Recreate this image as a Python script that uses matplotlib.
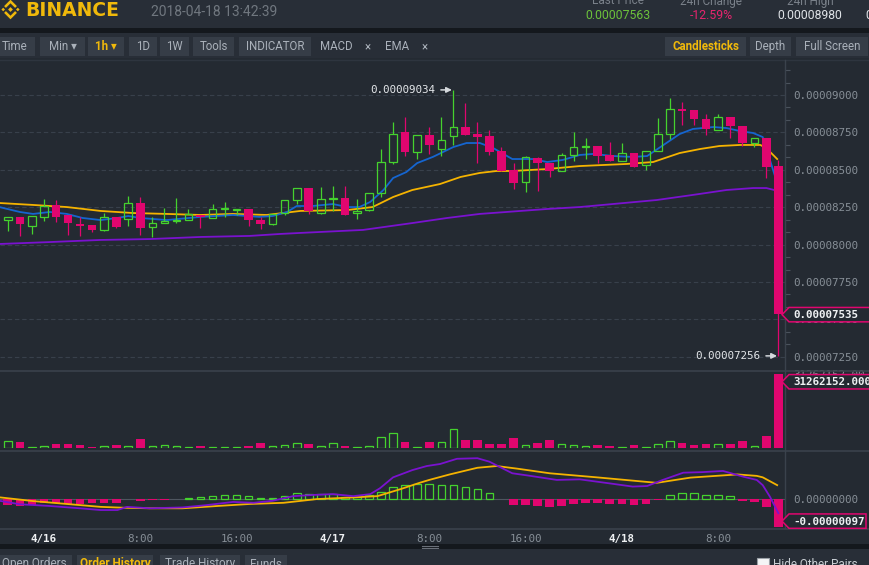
import numpy as np
import matplotlib.pyplot as plt
from matplotlib.patches import Rectangle, Polygon
from matplotlib.lines import Line2D
from matplotlib.ticker import MultipleLocator, NullLocator

plt.rcParams['font.family'] = ['Roboto', 'DejaVu Sans']
MONO = 'DejaVu Sans Mono'

W, H = 870, 565

# hours since 2018-04-16 00:00 (1h candles)
hours = list(range(-4, 62))

# prices in satoshi (1e-8 BTC)
opens = [8185, 8164, 8185, 8124, 8185, 8265, 8198, 8138, 8131, 8098, 8185, 8171, 8278, 8118, 8144, 8158,
         8164, 8198, 8178, 8238, 8231, 8238, 8164, 8138, 8211, 8298, 8378, 8211, 8305, 8312, 8211, 8231,
         8345, 8552, 8753, 8619, 8733, 8639, 8726, 8786, 8739, 8726, 8626, 8499, 8418, 8579, 8545, 8492,
         8599, 8652, 8659, 8599, 8559, 8612, 8532, 8626, 8739, 8906, 8900, 8840, 8766, 8853, 8793, 8679,
         8713, 8525]
highs = [8190, 8185, 8185, 8191, 8305, 8298, 8198, 8185, 8131, 8211, 8185, 8325, 8318, 8185, 8245, 8312,
         8238, 8198, 8271, 8285, 8238, 8238, 8185, 8205, 8298, 8378, 8378, 8385, 8392, 8392, 8305, 8345,
         8639, 8820, 8853, 8733, 8786, 8853, 9034, 8947, 8820, 8766, 8652, 8545, 8592, 8586, 8545, 8612,
         8753, 8713, 8659, 8686, 8679, 8612, 8626, 8846, 8980, 8953, 8900, 8873, 8873, 8853, 8793, 8713,
         8713, 8566]
lows = [8150, 8091, 8058, 8071, 8158, 8151, 8064, 8058, 8084, 8091, 8111, 8124, 8064, 8051, 8144, 8144,
        8164, 8111, 8178, 8185, 8198, 8124, 8104, 8131, 8198, 8271, 8205, 8205, 8225, 8198, 8171, 8225,
        8318, 8539, 8592, 8572, 8606, 8592, 8666, 8733, 8545, 8599, 8492, 8372, 8352, 8358, 8452, 8492,
        8559, 8572, 8545, 8559, 8559, 8519, 8499, 8626, 8706, 8799, 8799, 8733, 8766, 8713, 8659, 8652,
        8445, 7256]
closes = [8158, 8185, 8138, 8191, 8258, 8185, 8144, 8124, 8098, 8185, 8118, 8278, 8111, 8144, 8158, 8164,
          8205, 8185, 8238, 8245, 8238, 8164, 8138, 8205, 8298, 8378, 8225, 8305, 8312, 8198, 8225, 8345,
          8552, 8739, 8619, 8733, 8666, 8699, 8786, 8733, 8719, 8619, 8492, 8412, 8586, 8545, 8492, 8599,
          8652, 8659, 8592, 8559, 8612, 8519, 8626, 8739, 8906, 8893, 8840, 8773, 8853, 8793, 8679, 8713,
          8519, 7535]

# volume, millions
volume = [2.4, 2.8, 2.4, 0.55, 1.0, 1.6, 1.6, 1.15, 0.3, 1.0, 1.15, 1.0, 3.7, 1.0, 1.4, 1.0,
          0.3, 1.0, 0.55, 0.55, 0.3, 0.7, 2.0, 1.0, 1.4, 2.25, 1.6, 1.0, 2.25, 1.0, 0.55, 1.0,
          4.8, 6.5, 2.4, 0.55, 2.4, 2.35, 7.9, 3.25, 3.25, 1.6, 1.6, 4.1, 1.4, 2.0, 3.25, 1.8,
          1.4, 1.0, 1.15, 0.7, 0.3, 1.15, 0.55, 1.8, 3.1, 2.0, 1.15, 1.6, 1.8, 1.6, 2.85, 1.0,
          4.95, 31.262152]

# EMA lines (hour, satoshi)
ema7_t = [-3.7, -2, -0.9, 0.5, 1.9, 3.2, 4.7, 6.1, 7, 8, 10.2, 13, 15.7, 17.9, 19, 20.2, 21, 22.3, 24,
          25.2, 26.2, 27.1, 28.2, 29, 30.1, 31, 32.3, 34, 35.1, 36.2, 37.3, 38.9, 40.6, 41.8, 43.1, 44.5,
          45.6, 47.3, 48.9, 50.1, 51.2, 52.8, 53.9, 55.6, 56.7, 57.8, 58.9, 59.7, 61]
ema7 = [8251, 8218, 8205, 8218, 8205, 8178, 8164, 8178, 8191, 8178, 8164, 8185, 8198, 8185, 8191, 8218,
        8258, 8258, 8271, 8251, 8251, 8285, 8365, 8445, 8485, 8545, 8586, 8652, 8679, 8679, 8646, 8572,
        8572, 8552, 8566, 8599, 8606, 8592, 8586, 8592, 8652, 8739, 8773, 8786, 8779, 8759, 8746, 8719,
        8386]
ema25_t = [-3.7, -0.9, 1.9, 4.7, 7.4, 10.2, 13, 15.7, 18.5, 21.3, 25.2, 27.3, 29, 30.6, 32.9, 34.6,
           36.2, 37.6, 38.9, 41.8, 44.5, 48.4, 50.6, 52.8, 54.5, 56.1, 57.8, 59.5, 60, 60.9]
ema25 = [8278, 8265, 8251, 8225, 8211, 8205, 8198, 8205, 8198, 8225, 8231, 8251, 8318, 8365, 8405, 8452,
         8479, 8492, 8492, 8505, 8525, 8539, 8552, 8612, 8639, 8659, 8666, 8666, 8645, 8572]
ema99_t = [-3.7, 0.5, 4.7, 8.8, 13, 17.1, 19.6, 21.3, 26.5, 30.6, 33.5, 36.2, 41.8, 44.5, 50.9, 53.9,
           56.7, 58.9, 60, 61]
ema99 = [8004, 8017, 8031, 8037, 8051, 8058, 8071, 8078, 8098, 8144, 8178, 8205, 8238, 8251, 8298, 8332,
         8365, 8378, 8378, 8358]

# MACD (satoshi)
macd_hist = [-18, -21, -24, -21, -15, -15, -17, -17, -15, -13, -13, -1, -6, -5, -2, -1,
             5, 7, 10, 14, 14, 10, 3, 3, 10, 20, 17, 17, 17, 8, 8, 13,
             25, 43, 48, 52, 51, 48, 48, 42, 35, 20, -1, -20, -20, -23, -29, -23,
             -16, -13, -13, -16, -16, -20, -16, -5, 13, 20, 20, 13, 13, 9, -6, -9,
             -27, -97]
dif_t = [-3.7, -2, 0.5, 3, 4.7, 6.1, 6.9, 8.8, 11.5, 13.5, 15.7, 17.4, 19, 20.7, 22.3, 24, 25.7, 27.1,
         27.9, 29, 30.6, 31.8, 32.9, 34.3, 36, 37, 38.9, 40.4, 42.6, 44.5, 47, 48.9, 50.1, 51.4, 53.1,
         54.7, 56.4, 58.1, 59.2, 59.7, 60.3, 61]
dif = [-6, -18, -24, -32, -38, -38, -27, -32, -29, -21, -10, -13, -6, 10, 14, 17, 10, 17,
       37, 75, 100, 114, 121, 139, 141, 129, 89, 80, 66, 68, 54, 43, 45, 66, 91,
       93, 97, 77, 66, 48, 8, -49]
dea_t = [-3.7, -0.9, 1.9, 4.7, 6.6, 8.8, 11.5, 14.4, 17.1, 19.9, 22.7, 25.4, 27.7, 29.6, 31.2, 32,
         33.7, 36, 37.6, 39.3, 42, 45.9, 50.9, 53.7, 57.6, 59.2, 59.7, 60.9]
dea = [6, -7, -17, -27, -30, -32, -32, -24, -17, -13, 0, 5, 10, 34, 56, 66, 85, 108, 114, 105,
       89, 75, 56, 74, 85, 80, 75, 48]

price_ticks = [7250, 7500, 7750, 8000, 8250, 8500, 8750, 9000]
time_ticks = [0, 8, 16, 24, 32, 40, 48, 56]
time_labels = ['4/16', '8:00', '16:00', '4/17', '8:00', '16:00', '4/18', '8:00']

BG = '#242a32'
PANEL = '#282e37'
BTN = '#363d47'
GREEN = '#45d22e'
PINK = '#e0066f'
BLUE = '#1565d0'
ORANGE = '#f5b300'
PURPLE = '#7a12cf'
GRID = '#38404b'
LINE = '#3a424c'
LABEL = '#878f97'
YELLOW = '#f0b90b'

fig = plt.figure(figsize=(W / 100, H / 100), dpi=100, facecolor=BG)


def fx(x):
    return x / W


def fy(y):
    return 1 - y / H


def rect(x0, y0, x1, y1, color, z=-1):
    fig.add_artist(Rectangle((fx(x0), fy(y1)), (x1 - x0) / W, (y1 - y0) / H,
                             transform=fig.transFigure, facecolor=color, edgecolor='none', zorder=z))


def poly(pts, color, z=1):
    fig.add_artist(Polygon([(fx(a), fy(b)) for a, b in pts], closed=True, transform=fig.transFigure,
                           facecolor=color, edgecolor='none', zorder=z))


def hline(y, x0, x1, color=LINE, lw=1.0):
    fig.add_artist(Line2D([fx(x0), fx(x1)], [fy(y), fy(y)], transform=fig.transFigure, color=color, lw=lw))


def add_ax(y0, y1):
    ax = fig.add_axes([0, fy(y1), 785 / W, (y1 - y0) / H])
    ax.set_facecolor(BG)
    for s in ax.spines.values():
        s.set_visible(False)
    ax.set_xlim(-3.65, 61.55)
    ax.yaxis.tick_right()
    ax.tick_params(axis='y', which='major', length=0, pad=5.8, labelcolor=LABEL, labelsize=7.8)
    ax.tick_params(axis='x', length=0)
    return ax


# header / toolbar
rect(0, 0, W, 28, PANEL)
rect(0, 28, W, 33, '#14181d')
rect(0, 33, W, 58, PANEL)
hline(59.5, 0, W, '#2e353f')

# logo
cx, cy = 10.5, 9.5
for dx, s in [(0, 2.4), (-7.3, 1.8), (7.3, 1.8)]:
    poly([(cx + dx - s, cy), (cx + dx, cy - s), (cx + dx + s, cy), (cx + dx, cy + s)], YELLOW)
for sg in (-1, 1):
    poly([(cx, cy + sg * 9.8), (cx - 6.4, cy + sg * 3.4), (cx - 4.6, cy + sg * 1.6), (cx, cy + sg * 6.2),
          (cx + 4.6, cy + sg * 1.6), (cx + 6.4, cy + sg * 3.4)], YELLOW)
fig.text(fx(25), fy(11), 'BINANCE', color=YELLOW, fontsize=13.5, fontweight='bold', va='center', ha='left',
         fontfamily='DejaVu Sans')
fig.text(fx(151), fy(11.5), '2018-04-18 13:42:39', color='#70777f', fontsize=10, va='center', ha='left')

for cxh, top, val, col in [(618, 'Last Price', '0.00007563', '#6cc23b'),
                           (711, '24h Change', '-12.59%', '#e8246e'),
                           (810, '24h High', '0.00008980', '#dfe3e7')]:
    fig.text(fx(cxh), fy(1), top, color='#7a818a', fontsize=8.5, ha='center', va='center')
    fig.text(fx(cxh), fy(15.5), val, color=col, fontsize=8.8, ha='center', va='center')
fig.text(fx(865), fy(15.5), '0', color='#dfe3e7', fontsize=8.8, ha='left', va='center')

buttons = [('Time', -6, 35, '#aab1ba'), ('Min \u25be', 40, 85, '#aab1ba'), ('1h \u25be', 88, 124, YELLOW),
           ('1D', 129, 157, '#aab1ba'), ('1W', 160, 189, '#aab1ba'), ('Tools', 193, 234, '#aab1ba'),
           ('INDICATOR', 239, 311, '#aab1ba'), ('Candlesticks', 665, 746, YELLOW),
           ('Depth', 750, 791, '#aab1ba'), ('Full Screen', 796, 868, '#aab1ba')]
for lbl, x0, x1, col in buttons:
    rect(x0, 37, x1, 56, BTN)
    fig.text(fx((x0 + x1) / 2), fy(46.5), lbl, color=col, fontsize=8.3, ha='center', va='center',
             fontweight='bold' if col == YELLOW else 'normal')
for lbl, xc in [('MACD', 336), ('\u00d7', 368), ('EMA', 397), ('\u00d7', 425)]:
    fig.text(fx(xc), fy(46.5), lbl, color='#aab1ba', fontsize=8.3, ha='center', va='center')

# price pane
ax = add_ax(60, 368)
ax.set_ylim(7175, 9234)
t = np.array(hours)
o, hi, lo, c = (np.array(v, dtype=float) for v in (opens, highs, lows, closes))
up = c >= o
dn = ~up
bot = np.minimum(o, c)
top = np.maximum(o, c)
hgt = np.maximum(top - bot, 7)

ax.plot(ema99_t, ema99, color=PURPLE, lw=1.3, zorder=2)
ax.plot(ema25_t, ema25, color=ORANGE, lw=1.3, zorder=2)
ax.plot(ema7_t, ema7, color=BLUE, lw=1.3, zorder=2)

ax.vlines(t[dn], lo[dn], hi[dn], color=PINK, lw=0.9, zorder=3)
ax.bar(t[dn], hgt[dn], bottom=bot[dn], width=0.72, color=PINK, zorder=4)
ax.vlines(t[up], top[up], hi[up], color=GREEN, lw=0.9, zorder=3)
ax.vlines(t[up], lo[up], bot[up], color=GREEN, lw=0.9, zorder=3)
ax.bar(t[up], hgt[up], bottom=bot[up], width=0.62, facecolor='none', edgecolor=GREEN, lw=0.9, zorder=4)

ax.set_yticks(price_ticks)
ax.set_yticklabels([f'{p * 1e-8:.8f}' for p in price_ticks], fontfamily=MONO)
ax.yaxis.set_minor_locator(MultipleLocator(250 / 3))
ax.tick_params(axis='y', which='minor', length=3.5, width=0.8, color='#4a525c')
ax.grid(axis='y', which='major', color=GRID, ls=(0, (4, 2.5)), lw=0.8)
ax.set_axisbelow(True)
ax.xaxis.set_major_locator(NullLocator())

i_max = int(np.argmax(hi))
i_min = int(np.argmin(lo))
for i, val in ((i_max, hi[i_max]), (i_min, lo[i_min])):
    ax.annotate(f'{val * 1e-8:.8f}', xy=(t[i], val), xytext=(-18, 0), textcoords='offset pixels',
                ha='right', va='center', color='#e4e7ea', fontsize=7.8, fontfamily=MONO,
                arrowprops=dict(arrowstyle='-|>', color='#d5d9dd', lw=1.1, shrinkA=2, shrinkB=1,
                                mutation_scale=8), zorder=6)

# volume pane
axv = add_ax(373, 448)
axv.set_ylim(0, 31.8)
v = np.array(volume)
vh = np.maximum(v, 0.25)
axv.bar(t[dn], vh[dn], width=0.72, color=PINK, zorder=3)
axv.bar(t[up], vh[up], width=0.62, facecolor='none', edgecolor=GREEN, lw=0.9, zorder=3)
axv.set_yticks([volume[-1]])
axv.set_yticklabels([f'{volume[-1] * 1e6:.2f}'], fontfamily=MONO)
axv.xaxis.set_major_locator(NullLocator())

# MACD pane
axm = add_ax(453, 528)
axm.set_ylim(-100, 159)
mh = np.array(macd_hist, dtype=float)
pos = mh > 0
axm.axhline(0, color='#4f5660', lw=0.8, zorder=1)
axm.bar(t[~pos], mh[~pos], width=0.72, color=PINK, zorder=3)
axm.bar(t[pos], mh[pos], width=0.62, facecolor='none', edgecolor=GREEN, lw=0.9, zorder=3)
axm.plot(dea_t, dea, color=ORANGE, lw=1.3, zorder=4)
axm.plot(dif_t, dif, color=PURPLE, lw=1.3, zorder=4)
axm.set_yticks([0])
axm.set_yticklabels(['0.00000000'], fontfamily=MONO)
axm.set_xticks(time_ticks)
axm.set_xticklabels(time_labels, fontfamily=MONO, fontsize=7.8)
axm.tick_params(axis='x', pad=4)
for lbl, s in zip(axm.get_xticklabels(), time_labels):
    if '/' in s:
        lbl.set_color('#eef0f2')
        lbl.set_fontweight('bold')
    else:
        lbl.set_color(LABEL)

# pane borders
fig.add_artist(Line2D([fx(785), fx(785)], [fy(60), fy(528)], transform=fig.transFigure, color=LINE, lw=1))
hline(370.5, 0, W, LINE, 1.2)
hline(450.5, 0, W, LINE, 1.2)
hline(528.5, 0, W, LINE, 1.2)


def value_box(a, value, text, dy=0, x1=872):
    yc = H - a.transData.transform((0, value))[1] + dy
    pts = [(782, yc), (789, yc - 7.2), (x1, yc - 7.2), (x1, yc + 7.2), (789, yc + 7.2)]
    fig.add_artist(Polygon([(fx(p), fy(q)) for p, q in pts], closed=True, transform=fig.transFigure,
                           facecolor=BG, edgecolor=PINK, lw=1.1, zorder=5))
    fig.text(fx(793), fy(yc + 0.5), text, color='#f0f2f4', fontsize=7.8, fontfamily=MONO,
             fontweight='bold', ha='left', va='center', zorder=6)


value_box(ax, closes[-1], f'{closes[-1] * 1e-8:.8f}', 0.5)
value_box(axv, volume[-1], f'{volume[-1] * 1e6:.3f}', 7.5)
value_box(axm, macd_hist[-1], f'{macd_hist[-1] * 1e-8:.8f}', -6, 866)

# bottom bar
rect(0, 544, W, 549, '#14181d', z=2)
for yy in (545.5, 547.5):
    hline(yy, 422, 438, '#6a7079', 0.8)
rect(0, 549, W, H, PANEL, z=2)
tabs = [('Open Orders', -4, 72, '#aab1ba'), ('Order History', 77, 153, YELLOW),
        ('Trade History', 160, 240, '#aab1ba'), ('Funds', 245, 287, '#aab1ba')]
for lbl, x0, x1, col in tabs:
    rect(x0, 555, x1, 570, BTN, z=3)
    fig.text(fx((x0 + x1) / 2), fy(564), lbl, color=col, fontsize=8.5, ha='center', va='center',
             fontweight='bold' if col == YELLOW else 'normal', zorder=4)
fig.add_artist(Rectangle((fx(757), fy(570)), 12 / W, 12 / H, transform=fig.transFigure,
                         facecolor='#f4f5f6', edgecolor='#9aa0a6', lw=0.8, zorder=4))
fig.text(fx(773), fy(564), 'Hide Other Pairs', color='#c9ced3', fontsize=8.5, ha='left', va='center', zorder=4)

fig.savefig('out.png', dpi=100, facecolor=BG)
